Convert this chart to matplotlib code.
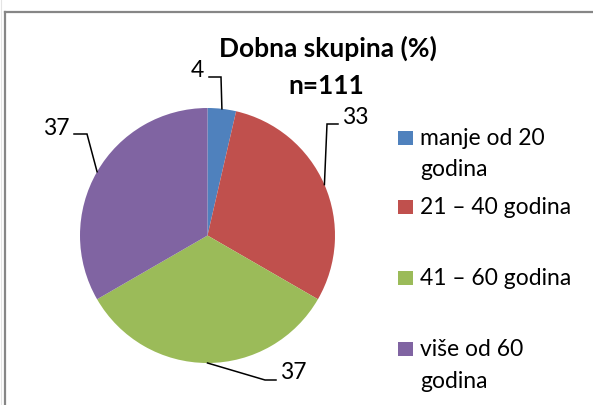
import textwrap
import numpy as np
import matplotlib
matplotlib.use("Agg")
import matplotlib.pyplot as plt
from matplotlib.lines import Line2D
from matplotlib.patches import Rectangle

# ---- data ----
categories = ["manje od 20 godina", "21 – 40 godina", "41 – 60 godina", "više od 60 godina"]
values = [4, 33, 37, 37]
title_lines = ["Dobna skupina (%)", "n=111"]
colors = ["#4F81BD", "#C0504D", "#9BBB59", "#8064A2"]

W, H = 593, 405
plt.rcParams['font.family'] = ['Lato', 'DejaVu Sans']
fig = plt.figure(figsize=(W / 100, H / 100), dpi=100)
fig.patch.set_facecolor("white")

def fx(x):
    return x / W

def fy(y):
    return 1 - y / H

# chart border (top and left visible)
fig.add_artist(Line2D([fx(4.5), fx(4.5)], [fy(12), fy(420)], color="#868686", lw=1.6))
fig.add_artist(Line2D([fx(4.5), fx(600)], [fy(12), fy(12)], color="#868686", lw=1.6))
fig.add_artist(Line2D([fx(0.5), fx(0.5)], [fy(0), fy(420)], color="#e4e4e4", lw=0.8))

# pie
cx, cy, r = 207.5, 235.5, 127.5
ax = fig.add_axes([fx(cx - r), fy(cy + r), 2 * r / W, 2 * r / H])
wedges, _ = ax.pie(values, colors=colors, startangle=90, counterclock=False,
                   radius=1.0, wedgeprops=dict(linewidth=0))
ax.set_xlim(-1, 1)
ax.set_ylim(-1, 1)
ax.axis("off")

def p2d(x, y):
    return (x - cx) / r, (cy - y) / r

LBL = 16.5
TTL = 19

# label layout (pixel positions): elbow, line end, text anchor, alignment
label_layout = [
    dict(elbow=(221, 77), end=(209, 77), text=(204, 77), ha="right"),
    dict(elbow=(327, 124), end=(338, 124), text=(342, 124), ha="left"),
    dict(elbow=(265, 380), end=(276, 380), text=(280, 379), ha="left"),
    dict(elbow=(87, 134), end=(74, 134), text=(70, 135), ha="right"),
]

for w, v, lay in zip(wedges, values, label_layout):
    mid = np.deg2rad((w.theta1 + w.theta2) / 2)
    ex, ey = np.cos(mid), np.sin(mid)
    bx, by = p2d(*lay["elbow"])
    tx, ty = p2d(*lay["end"])
    ax.plot([ex, bx, tx], [ey, by, ty], color="black", lw=1.1, clip_on=False,
            solid_joinstyle="miter")
    lx, ly = p2d(*lay["text"])
    ax.text(lx, ly, str(v), ha=lay["ha"], va="baseline", fontsize=LBL, clip_on=False)

# title
fig.text(fx(328), fy(57), title_lines[0], ha="center", va="baseline",
         fontsize=TTL, fontweight="bold")
fig.text(fx(326), fy(94), title_lines[1], ha="center", va="baseline",
         fontsize=TTL, fontweight="bold")

# legend
legend_y = [138, 207, 278, 349]
for cat, col, y in zip(categories, colors, legend_y):
    fig.add_artist(Rectangle((fx(398), fy(y + 7)), 15 / W, 14 / H,
                             transform=fig.transFigure, facecolor=col, edgecolor="none"))
    lines = textwrap.wrap(cat, 14)
    for i, ln in enumerate(lines):
        fig.text(fx(420), fy(y + 7 + 31.5 * i), ln, ha="left", va="baseline", fontsize=LBL)

fig.savefig("out.png", dpi=100, facecolor="white")
